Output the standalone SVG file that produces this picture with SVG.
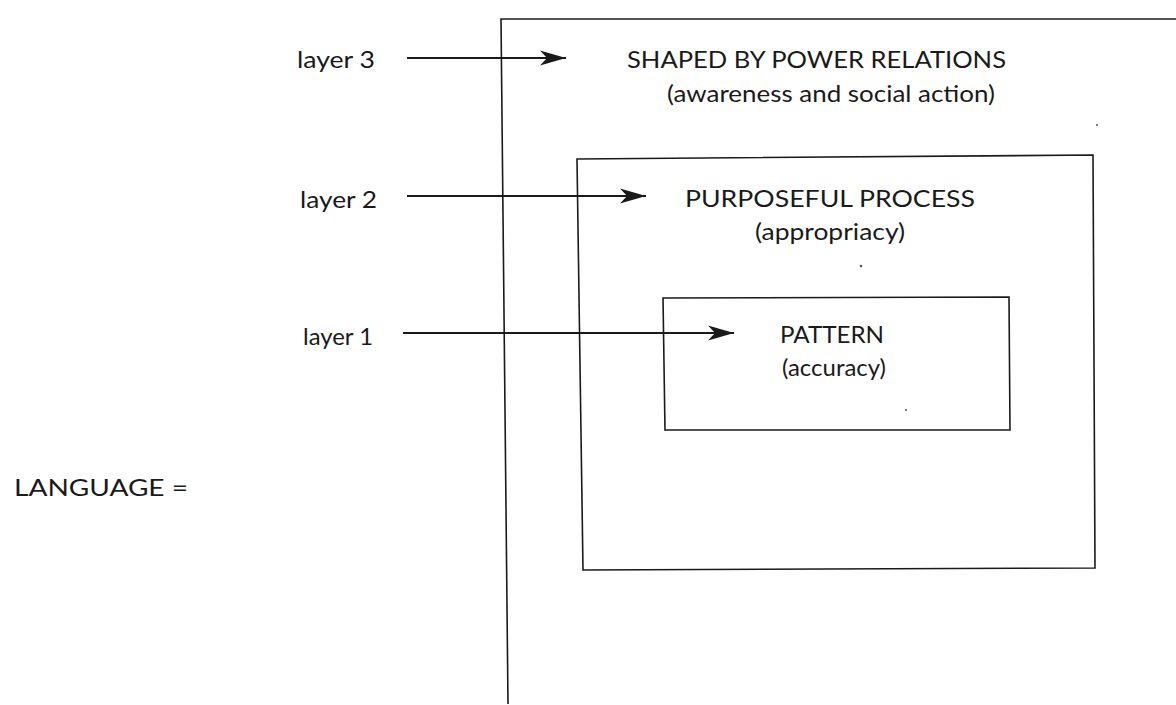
<svg xmlns="http://www.w3.org/2000/svg" width="1176" height="705" viewBox="0 0 1176 705">
<style>
text{font-family:"Lato","Open Sans","Liberation Sans",sans-serif;font-size:24px;fill:#1a1a1a}
.box{fill:none;stroke:#1a1a1a;stroke-width:1.6}
.arr{fill:none;stroke:#1a1a1a;stroke-width:1.8;marker-end:url(#ah)}
</style>
<defs>
<marker id="ah" markerUnits="userSpaceOnUse" markerWidth="28" markerHeight="18" refX="26" refY="9" orient="auto">
<path d="M0,1.5 L26,9 L0,16.5 L7,9 Z" fill="#1a1a1a"/>
</marker>
</defs>
<rect width="1176" height="705" fill="#fff"/>
<text x="14" y="496" textLength="174" lengthAdjust="spacingAndGlyphs">LANGUAGE =</text>
<g id="layer3">
<path class="box" d="M508,704 L501,19 L1176,19"/>
<text x="627" y="68" textLength="379" lengthAdjust="spacingAndGlyphs">SHAPED BY POWER RELATIONS</text>
<text x="667" y="102" textLength="328" lengthAdjust="spacingAndGlyphs">(awareness and social action)</text>
</g>
<g id="layer2">
<path class="box" d="M577,159 L1093,155 L1095,568 L583,570 Z"/>
<text x="685" y="207" textLength="290" lengthAdjust="spacingAndGlyphs">PURPOSEFUL PROCESS</text>
<text x="755" y="240" textLength="150" lengthAdjust="spacingAndGlyphs">(appropriacy)</text>
</g>
<g id="layer1">
<path class="box" d="M663,298 L1009,297 L1010,430 L665,430 Z"/>
<text x="780" y="343" textLength="104" lengthAdjust="spacingAndGlyphs">PATTERN</text>
<text x="782" y="376" textLength="104" lengthAdjust="spacingAndGlyphs">(accuracy)</text>
</g>
<g id="labels">
<text x="297" y="68" textLength="78" lengthAdjust="spacingAndGlyphs">layer 3</text>
<text x="300" y="208" textLength="77" lengthAdjust="spacingAndGlyphs">layer 2</text>
<text x="303" y="345" textLength="70" lengthAdjust="spacingAndGlyphs">layer 1</text>
</g>
<g id="connectors">
<line class="arr" x1="407" y1="58" x2="566" y2="58"/>
<line class="arr" x1="407" y1="196" x2="646" y2="196"/>
<line class="arr" x1="403" y1="333" x2="734" y2="333"/>
</g>
<g fill="#555">
<circle cx="1097" cy="125" r="1"/>
<circle cx="861" cy="266" r="1.3"/>
<circle cx="906" cy="410" r="1"/>
</g>
</svg>
